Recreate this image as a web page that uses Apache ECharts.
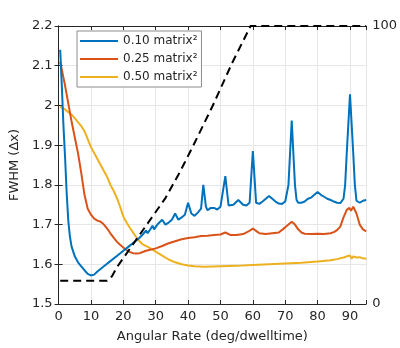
<!DOCTYPE html>
<html>
<head>
<meta charset="utf-8">
<script src="https://cdn.jsdelivr.net/npm/echarts@6/dist/echarts.min.js"></script>
<style>
  html, body { margin: 0; padding: 0; background: #fff; }
  #chart { width: 400px; height: 348px; }
</style>
</head>
<body>
<div id="chart"></div>
<script>
// angular rate (deg/dwelltime) and FWHM for each matrix size
const blueRate = [0.5, 1, 1.5, 2, 2.5, 3, 3.5, 4, 5, 6, 7, 8, 9, 10, 11, 12, 14, 16, 18, 20, 22, 24, 25, 26, 27, 27.5, 28.5, 29, 29.5, 30.5, 31, 32, 33, 34, 35, 36, 37, 38, 39, 40, 41, 42, 43, 44, 44.7, 45.5, 46, 47, 48, 49, 50, 51.5, 52.5, 53, 54, 55.5, 57, 58, 59, 60, 61, 62, 63, 64, 65, 66, 67, 68, 69, 70, 71, 72, 73, 73.5, 74, 75, 76, 77, 78, 79, 80, 81, 82, 83, 84, 85, 86, 87, 88, 88.5, 89, 90, 91, 91.5, 92, 93, 94, 95];
const blueFwhm = [2.14, 2.05, 1.95, 1.87, 1.78, 1.71, 1.67, 1.645, 1.62, 1.605, 1.595, 1.585, 1.576, 1.572, 1.574, 1.582, 1.595, 1.608, 1.621, 1.634, 1.647, 1.66, 1.667, 1.675, 1.685, 1.678, 1.69, 1.697, 1.688, 1.70, 1.696, 1.712, 1.70, 1.705, 1.712, 1.728, 1.712, 1.718, 1.725, 1.755, 1.728, 1.722, 1.73, 1.74, 1.80, 1.745, 1.736, 1.742, 1.742, 1.738, 1.745, 1.822, 1.748, 1.744, 1.75, 1.762, 1.75, 1.748, 1.755, 1.885, 1.755, 1.752, 1.758, 1.765, 1.772, 1.765, 1.758, 1.753, 1.752, 1.758, 1.80, 1.962, 1.80, 1.762, 1.755, 1.755, 1.758, 1.765, 1.768, 1.775, 1.782, 1.775, 1.77, 1.765, 1.762, 1.758, 1.755, 1.754, 1.765, 1.80, 1.88, 2.028, 1.88, 1.80, 1.76, 1.755, 1.76, 1.762];

const redRate = [0.5, 1, 2, 3, 4, 5, 6, 7, 8, 9, 10, 11, 12, 13, 14, 15, 16, 17, 18, 19, 20, 21, 22, 23, 24, 25, 26, 27, 28, 30, 32, 34, 36, 38, 40, 42, 44, 46, 48, 50, 51.5, 53, 55, 57, 58.5, 60, 61, 62, 64, 66, 68, 70, 72, 73, 74, 75, 76, 78, 80, 82, 84, 85, 86, 87, 88, 89, 89.8, 90.3, 91, 92, 93, 94, 95];
const redFwhm = [2.11, 2.09, 2.05, 2.005, 1.96, 1.92, 1.88, 1.83, 1.775, 1.74, 1.725, 1.715, 1.71, 1.707, 1.70, 1.69, 1.678, 1.667, 1.657, 1.649, 1.642, 1.636, 1.631, 1.628, 1.627, 1.628, 1.631, 1.634, 1.636, 1.64, 1.646, 1.653, 1.658, 1.663, 1.666, 1.668, 1.671, 1.672, 1.674, 1.675, 1.68, 1.674, 1.674, 1.676, 1.682, 1.69, 1.684, 1.678, 1.676, 1.678, 1.68, 1.693, 1.707, 1.70, 1.688, 1.68, 1.677, 1.676, 1.677, 1.676, 1.678, 1.681, 1.686, 1.695, 1.718, 1.737, 1.742, 1.735, 1.745, 1.728, 1.70, 1.688, 1.683];

const yellowRate = [0.5, 1, 2, 3, 4, 5, 6, 7, 8, 9, 10, 11, 12, 13, 14, 15, 16, 17, 18, 19, 20, 21, 22, 23, 24, 25, 26, 28, 30, 32, 34, 36, 38, 40, 42, 45, 50, 55, 60, 65, 70, 75, 80, 84, 86, 88, 89, 89.5, 90, 90.5, 91, 92, 93, 94, 95];
const yellowFwhm = [1.997, 1.995, 1.99, 1.983, 1.977, 1.968, 1.958, 1.948, 1.935, 1.915, 1.895, 1.88, 1.865, 1.85, 1.835, 1.82, 1.80, 1.785, 1.767, 1.745, 1.72, 1.705, 1.692, 1.68, 1.668, 1.658, 1.65, 1.642, 1.632, 1.622, 1.612, 1.605, 1.60, 1.597, 1.595, 1.594, 1.595, 1.596, 1.598, 1.60, 1.602, 1.604, 1.607, 1.61, 1.613, 1.617, 1.62, 1.615, 1.622, 1.614, 1.62, 1.617, 1.618, 1.615, 1.614];

// dashed curve on the right axis (0-100)
const coverRate = [0.5, 15, 16.5, 18, 23, 28, 33, 37, 39, 41.6, 47.6, 53.6, 59.3, 95];
const coverPct = [8.4, 8.4, 10, 13.2, 21.5, 29.8, 38.1, 46.5, 51, 57, 71.3, 86.7, 100, 100];

const seriesNames = ['0.10 matrix²', '0.25 matrix²', '0.50 matrix²'];
const leftTicks = [1.5, 2.2, 0.1];

const pairs = (xs, ys) => xs.map((x, i) => [x, ys[i]]);

const chart = echarts.init(document.getElementById('chart'), null, { renderer: 'canvas' });

const axisColor = '#262626';
const gridColor = '#e6e6e6';

const option = {
	animation: false,
	grid: { left: 52, right: 33, top: 26, bottom: 41 },
	legend: {
		data: seriesNames,
		orient: 'vertical',
		left: 77,
		top: 31,
		icon: 'rect',
		itemWidth: 38,
		itemHeight: 2,
		itemGap: 2,
		backgroundColor: '#fff',
		borderColor: '#8c8c8c',
		borderWidth: 1,
		padding: [2, 4, 2, 3],
		textStyle: { color: axisColor, fontSize: 12, lineHeight: 16, fontFamily: 'DejaVu Sans' }
	},
	xAxis: [
		{
			type: 'value',
			min: 0,
			max: 95,
			interval: 10,
			name: 'Angular Rate (deg/dwelltime)',
			nameLocation: 'middle',
			nameGap: 26,
			nameTextStyle: { color: axisColor, fontSize: 13, fontFamily: 'DejaVu Sans' },
			axisLine: { show: true, lineStyle: { color: axisColor, width: 1 } },
			axisTick: { show: true, inside: true, length: 4, lineStyle: { color: axisColor } },
			axisLabel: { color: axisColor, fontSize: 13, margin: 6, fontFamily: 'DejaVu Sans',
				formatter: v => (v === 95 ? '' : v) },
			splitLine: { show: true, lineStyle: { color: gridColor } }
		},
		{
			type: 'value',
			position: 'top',
			min: 0,
			max: 95,
			interval: 10,
			axisLine: { show: true, lineStyle: { color: axisColor, width: 1 } },
			axisTick: { show: true, inside: true, length: 4, lineStyle: { color: axisColor } },
			axisLabel: { show: false },
			splitLine: { show: false }
		}
	],
	yAxis: [
		{
			type: 'value',
			min: leftTicks[0],
			max: leftTicks[1],
			interval: leftTicks[2],
			name: 'FWHM (Δx)',
			nameLocation: 'middle',
			nameGap: 32,
			nameTextStyle: { color: axisColor, fontSize: 13, fontFamily: 'DejaVu Sans' },
			axisLine: { show: true, lineStyle: { color: axisColor, width: 1 } },
			axisTick: { show: true, inside: true, length: 4, lineStyle: { color: axisColor } },
			axisLabel: { color: axisColor, fontSize: 13, margin: 6, fontFamily: 'DejaVu Sans',
				formatter: v => String(+v.toFixed(1)) },
			splitLine: { show: true, lineStyle: { color: gridColor } }
		},
		{
			type: 'value',
			min: 0,
			max: 100,
			interval: 100 / 7,
			position: 'right',
			axisLine: { show: true, lineStyle: { color: axisColor, width: 1 } },
			axisTick: { show: true, inside: true, length: 4, lineStyle: { color: axisColor } },
			axisLabel: { color: axisColor, fontSize: 13, margin: 6, fontFamily: 'DejaVu Sans',
				formatter: v => (Math.abs(v) < 1e-6 ? '0' : Math.abs(v - 100) < 1e-6 ? '100' : '') },
			splitLine: { show: false }
		}
	],
	series: [
		{
			name: seriesNames[0],
			type: 'line',
			symbol: 'none',
			color: '#0072BD',
			lineStyle: { width: 2 },
			z: 4,
			data: pairs(blueRate, blueFwhm)
		},
		{
			name: seriesNames[1],
			type: 'line',
			symbol: 'none',
			color: '#D95319',
			lineStyle: { width: 2 },
			z: 3,
			data: pairs(redRate, redFwhm)
		},
		{
			name: seriesNames[2],
			type: 'line',
			symbol: 'none',
			color: '#EDB120',
			lineStyle: { width: 2 },
			z: 2,
			data: pairs(yellowRate, yellowFwhm)
		},
		{
			name: 'coverage',
			type: 'line',
			yAxisIndex: 1,
			symbol: 'none',
			color: '#000',
			lineStyle: { width: 2, type: [8, 5] },
			z: 5,
			data: pairs(coverRate, coverPct)
		}
	]
};

chart.setOption(option);
window.addEventListener('resize', chart.resize);
</script>
</body>
</html>
